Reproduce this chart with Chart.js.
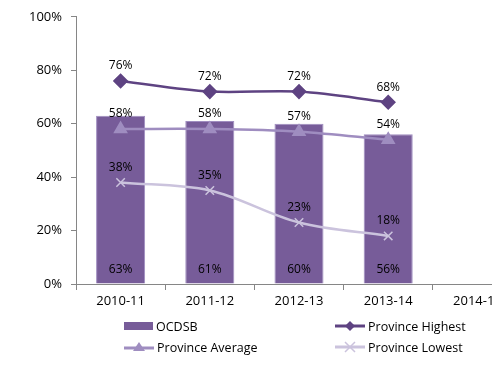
<!DOCTYPE html>
<html>
<head>
<meta charset="utf-8">
<script src="https://cdn.jsdelivr.net/npm/chart.js"></script>
<style>
  html, body { margin: 0; padding: 0; background: #fff; overflow: hidden; }
  #wrap { position: relative; width: 540px; height: 373px; }
  #legend { position: absolute; left: 0; top: 0; width: 540px; height: 373px; pointer-events: none;
            font-family: "Open Sans", sans-serif; font-size: 12.5px; color: #000; }
  .item { position: absolute; display: flex; align-items: center; height: 16px; }
  .item svg { margin-right: 3px; }
</style>
</head>
<body>
<div id="wrap">
  <canvas id="chart" width="540" height="373"></canvas>
  <div id="legend">
    <div class="item" style="left:124px; top:318px;">
      <svg width="29" height="10"><rect x="0" y="1" width="29" height="8" fill="#775C99"/></svg>OCDSB
    </div>
    <div class="item" style="left:335px; top:318px;">
      <svg width="30" height="12"><line x1="0" y1="6" x2="30" y2="6" stroke="#5E4382" stroke-width="3"/><polygon points="15,1 20,6 15,11 10,6" fill="#5E4382"/></svg>Province Highest
    </div>
    <div class="item" style="left:124px; top:339px;">
      <svg width="30" height="12"><line x1="0" y1="7" x2="30" y2="7" stroke="#9F8DC0" stroke-width="3"/><polygon points="15,1 21,10 9,10" fill="#9F8DC0"/></svg>Province Average
    </div>
    <div class="item" style="left:335px; top:339px;">
      <svg width="30" height="12"><line x1="0" y1="6" x2="30" y2="6" stroke="#CBC3DD" stroke-width="3"/><path d="M10 1 L20 11 M20 1 L10 11" stroke="#CBC3DD" stroke-width="1.5"/></svg>Province Lowest
    </div>
  </div>
</div>
<script>
// categorías y valores
var years = ['2010-11', '2011-12', '2012-13', '2013-14', '2014-15'];
var ocdsb = [63, 61, 60, 56, null];
var provHighest = [76, 72, 72, 68, null];
var provAverage = [58, 58, 57, 54, null];
var provLowest = [38, 35, 23, 18, null];
var yTicks = [0, 20, 40, 60, 80, 100];

// Plugin sencillo para las etiquetas de valores
var valueLabels = {
    id: 'valueLabels',
    afterDatasetsDraw: function(chart) {
        var ctx = chart.ctx;
        ctx.save();
        ctx.font = '12px "Open Sans", sans-serif';
        ctx.fillStyle = '#000';
        ctx.textAlign = 'center';
        ctx.textBaseline = 'middle';
        chart.data.datasets.forEach(function(ds, i) {
            var meta = chart.getDatasetMeta(i);
            meta.data.forEach(function(el, j) {
                var v = ds.data[j];
                if (v === null) return;
                if (ds.type === 'bar') {
                    ctx.fillText(v + '%', el.x, chart.scales.y.bottom - 14);
                } else {
                    ctx.fillText(v + '%', el.x, el.y - 15);
                }
            });
        });
        ctx.restore();
    }
};

var ctx = document.getElementById('chart').getContext('2d');
var chart = new Chart(ctx, {
    data: {
        labels: years,
        datasets: [
            {
                type: 'line', label: 'Province Highest', data: provHighest,
                borderColor: '#5E4382', backgroundColor: '#5E4382', borderWidth: 2.5,
                pointStyle: 'rectRot', pointRadius: 6, tension: 0.35, order: 1
            },
            {
                type: 'line', label: 'Province Average', data: provAverage,
                borderColor: '#9F8DC0', backgroundColor: '#9F8DC0', borderWidth: 2.5,
                pointStyle: 'triangle', pointRadius: 6, tension: 0.35, order: 2
            },
            {
                type: 'line', label: 'Province Lowest', data: provLowest,
                borderColor: '#CBC3DD', backgroundColor: '#CBC3DD', borderWidth: 2.5,
                pointStyle: 'crossRot', pointRadius: 6, pointBorderWidth: 1.5, tension: 0.35, order: 3
            },
            {
                type: 'bar', label: 'OCDSB', data: ocdsb,
                backgroundColor: '#775C99', borderColor: '#9F8DC0', borderWidth: 1,
                barPercentage: 0.55, categoryPercentage: 1, order: 4
            }
        ]
    },
    options: {
        responsive: false,
        animation: false,
        layout: { padding: { top: 16, left: 0, right: 18, bottom: 59 } },
        plugins: { legend: { display: false }, tooltip: { enabled: false } },
        scales: {
            x: {
                offset: true,
                grid: { display: true, drawOnChartArea: false, offset: true, tickLength: 6, color: '#868686' },
                border: { display: true, color: '#868686', width: 1 },
                ticks: { color: '#000', padding: 3, maxRotation: 0, font: { family: 'Open Sans', size: 13 } },
                afterFit: function(scale) { scale.height = 30; }
            },
            y: {
                min: 0, max: 100,
                afterBuildTicks: function(scale) {
                    scale.ticks = yTicks.map(function(v) { return { value: v }; });
                },
                grid: { display: true, drawOnChartArea: false, tickLength: 5, color: '#868686' },
                border: { display: true, color: '#868686', width: 1 },
                ticks: {
                    color: '#000', padding: 9,
                    font: { family: 'Open Sans', size: 13 },
                    callback: function(v) { return v + '%'; }
                },
                afterFit: function(scale) { scale.width = 76; }
            }
        }
    },
    plugins: [valueLabels]
});
</script>
</body>
</html>
